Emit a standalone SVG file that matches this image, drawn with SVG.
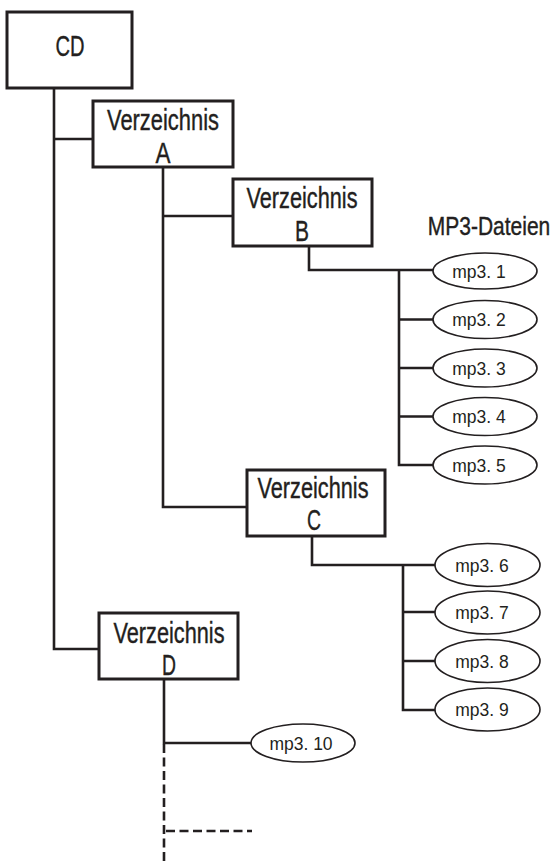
<svg xmlns="http://www.w3.org/2000/svg" width="557" height="865" viewBox="0 0 557 865">
<style>
.box{fill:#fff;stroke:#231f20;stroke-width:3}
.ell{fill:#fff;stroke:#231f20;stroke-width:1.6}
.ln{fill:none;stroke:#231f20;stroke-width:2.6}
.dash{fill:none;stroke:#231f20;stroke-width:2.6;stroke-dasharray:9 4.5}
.big{font-family:"Liberation Sans Narrow","Liberation Sans",Arial,sans-serif;font-size:29px;fill:#231f20;stroke:#231f20;stroke-width:0.4;text-anchor:middle}
.small{font-family:"Liberation Sans",Arial,sans-serif;font-size:17.5px;fill:#231f20;text-anchor:middle}
</style>
<rect width="557" height="865" fill="#fff"/>
<g id="connectors">
<path class="ln" d="M54 88V649H99M54 139H93"/>
<path class="ln" d="M163 167V507H247M163 216H233"/>
<path class="ln" d="M309 246V270H433M399 270V465H433M399 319.5H433M399 368H433M399 416.5H433"/>
<path class="ln" d="M312 536V565H435M403 565V710H435M403 612H435M403 661H435"/>
<path class="ln" d="M164 679V743H251"/>
<path class="dash" d="M164 744V865"/>
<path class="dash" d="M166 831H252"/>
</g>
<g id="cd"><rect class="box" x="7" y="12" width="125" height="76"/><text class="big" x="70" y="56" textLength="29" lengthAdjust="spacingAndGlyphs">CD</text></g>
<g id="dirA"><rect class="box" x="93" y="101" width="140" height="66"/><text class="big" x="163" y="130" textLength="112" lengthAdjust="spacingAndGlyphs">Verzeichnis</text><text class="big" x="163" y="163" textLength="15" lengthAdjust="spacingAndGlyphs">A</text></g>
<g id="dirB"><rect class="box" x="233" y="179" width="139" height="67"/><text class="big" x="302" y="208" textLength="111" lengthAdjust="spacingAndGlyphs">Verzeichnis</text><text class="big" x="302" y="241" textLength="14" lengthAdjust="spacingAndGlyphs">B</text></g>
<g id="dirC"><rect class="box" x="247" y="470" width="138" height="66"/><text class="big" x="313" y="498" textLength="111" lengthAdjust="spacingAndGlyphs">Verzeichnis</text><text class="big" x="314" y="530" textLength="14" lengthAdjust="spacingAndGlyphs">C</text></g>
<g id="dirD"><rect class="box" x="99" y="613" width="139" height="66"/><text class="big" x="169" y="643" textLength="111" lengthAdjust="spacingAndGlyphs">Verzeichnis</text><text class="big" x="169" y="675" textLength="14" lengthAdjust="spacingAndGlyphs">D</text></g>
<g id="mp3label"><text class="big" transform="translate(489 235) scale(0.84 1)" x="0" y="0" style="font-size:25px">MP3-Dateien</text></g>
<g id="mp3-1"><ellipse class="ell" cx="485" cy="271" rx="52" ry="18"/><text class="small" x="479" y="278">mp3. 1</text></g>
<g id="mp3-2"><ellipse class="ell" cx="485" cy="319.5" rx="52" ry="19"/><text class="small" x="479" y="326">mp3. 2</text></g>
<g id="mp3-3"><ellipse class="ell" cx="485" cy="368" rx="52" ry="19"/><text class="small" x="479" y="374.5">mp3. 3</text></g>
<g id="mp3-4"><ellipse class="ell" cx="485" cy="416.5" rx="52" ry="19"/><text class="small" x="479" y="423">mp3. 4</text></g>
<g id="mp3-5"><ellipse class="ell" cx="485" cy="465" rx="52" ry="19"/><text class="small" x="479" y="471.5">mp3. 5</text></g>
<g id="mp3-6"><ellipse class="ell" cx="487.5" cy="565" rx="52.5" ry="21.5"/><text class="small" x="482" y="571.5">mp3. 6</text></g>
<g id="mp3-7"><ellipse class="ell" cx="487.5" cy="612.5" rx="52.5" ry="21.5"/><text class="small" x="482" y="619">mp3. 7</text></g>
<g id="mp3-8"><ellipse class="ell" cx="487.5" cy="661" rx="52.5" ry="21.5"/><text class="small" x="482" y="667.5">mp3. 8</text></g>
<g id="mp3-9"><ellipse class="ell" cx="487.5" cy="709.5" rx="52.5" ry="21.5"/><text class="small" x="482" y="716">mp3. 9</text></g>
<g id="mp3-10"><ellipse class="ell" cx="303" cy="743" rx="52" ry="19"/><text class="small" x="301" y="749.5">mp3. 10</text></g>
</svg>
